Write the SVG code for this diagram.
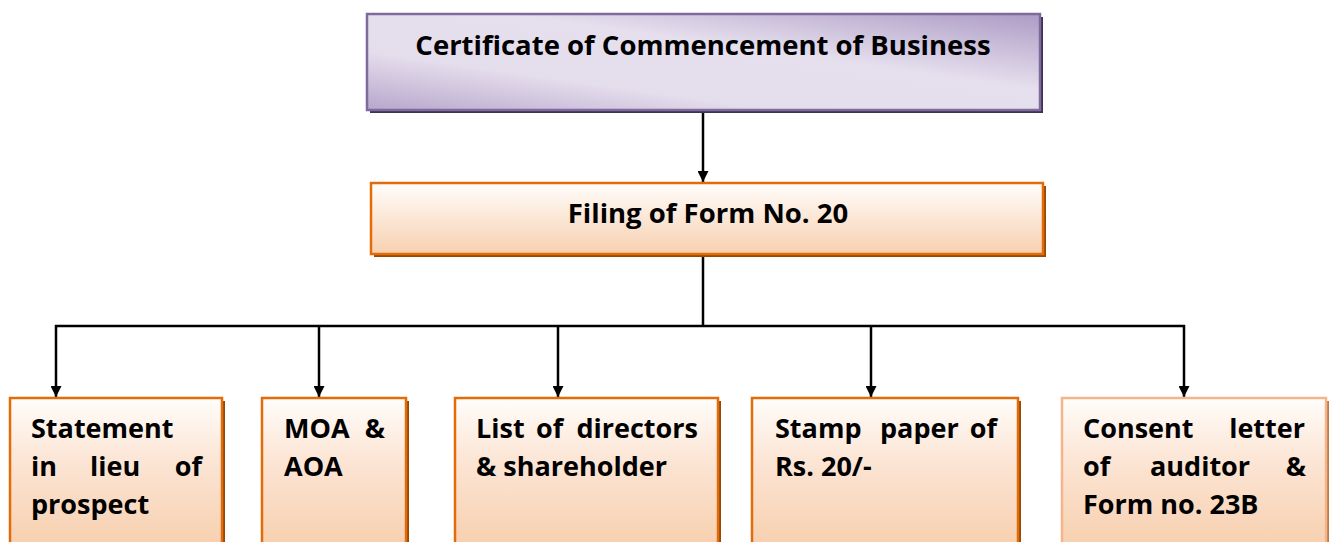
<svg xmlns="http://www.w3.org/2000/svg" width="1333" height="542" viewBox="0 0 1333 542">
<defs>
<linearGradient id="gp" x1="0" y1="1" x2="1" y2="0">
<stop offset="0" stop-color="#b7a6cb"/>
<stop offset="0.3" stop-color="#e4ddec"/>
<stop offset="0.6" stop-color="#e6e0ee"/>
<stop offset="1" stop-color="#ad9bc5"/>
</linearGradient>
<linearGradient id="go" x1="0" y1="0" x2="0" y2="1">
<stop offset="0" stop-color="#fffdfb"/>
<stop offset="1" stop-color="#f8d0b0"/>
</linearGradient>
<linearGradient id="gb" x1="0" y1="0" x2="0" y2="1">
<stop offset="0" stop-color="#fffdfb"/>
<stop offset="0.4" stop-color="#fce6d6"/>
<stop offset="1" stop-color="#f7cfae"/>
</linearGradient>
<marker id="ah" viewBox="0 0 10 10" refX="10" refY="5" markerWidth="11" markerHeight="11" markerUnits="userSpaceOnUse" orient="auto">
<path d="M0,0 L10,5 L0,10 z" fill="#000"/>
</marker>
</defs>
<style>
.t{font-family:"Open Sans",Lato,"Liberation Sans",sans-serif;font-weight:bold;font-size:27px;fill:#000}
.h{font-size:27.5px}
.ob{fill:url(#gb);stroke:#e36c0a;stroke-width:2.5}
.sh{fill:#984806}
.ln{stroke:#000;stroke-width:2.5;fill:none}
</style>
<g id="connectors">
<line class="ln" x1="703" y1="111" x2="703" y2="182" marker-end="url(#ah)"/>
<line class="ln" x1="703" y1="256" x2="703" y2="326"/>
<line class="ln" x1="55" y1="326" x2="1185" y2="326"/>
<line class="ln" x1="56" y1="325" x2="56" y2="397" marker-end="url(#ah)"/>
<line class="ln" x1="319" y1="325" x2="319" y2="397" marker-end="url(#ah)"/>
<line class="ln" x1="558" y1="325" x2="558" y2="397" marker-end="url(#ah)"/>
<line class="ln" x1="871" y1="325" x2="871" y2="397" marker-end="url(#ah)"/>
<line class="ln" x1="1184" y1="325" x2="1184" y2="397" marker-end="url(#ah)"/>
</g>
<g id="n-certificate">
<rect x="370" y="17" width="673" height="96" fill="#3f3151"/>
<rect x="367" y="14" width="673" height="96" fill="url(#gp)" stroke="#7f6a9e" stroke-width="2.5"/>
<text class="t h" x="703" y="55" text-anchor="middle">Certificate of Commencement of Business</text>
</g>
<g id="n-filing">
<rect x="374" y="186" width="672" height="71" class="sh"/>
<rect x="371" y="183" width="672" height="71" fill="url(#go)" stroke="#e36c0a" stroke-width="2.5"/>
<text class="t h" x="708" y="223" text-anchor="middle">Filing of Form No. 20</text>
</g>
<g id="n-statement">
<rect x="13" y="401" width="212" height="150" class="sh"/>
<rect x="10" y="398" width="212" height="150" class="ob"/>
<text class="t" x="31" y="438">Statement</text>
<text class="t" y="476"><tspan x="31">in</tspan><tspan x="90">lieu</tspan><tspan x="202" text-anchor="end">of</tspan></text>
<text class="t" x="31" y="514">prospect</text>
</g>
<g id="n-moa">
<rect x="265" y="401" width="144" height="150" class="sh"/>
<rect x="262" y="398" width="144" height="150" class="ob"/>
<text class="t" y="438"><tspan x="284">MOA</tspan><tspan x="385" text-anchor="end">&amp;</tspan></text>
<text class="t" x="284" y="476">AOA</text>
</g>
<g id="n-list">
<rect x="458" y="401" width="263" height="150" class="sh"/>
<rect x="455" y="398" width="263" height="150" class="ob"/>
<text class="t" y="438"><tspan x="476">List</tspan><tspan x="536">of</tspan><tspan x="698" text-anchor="end">directors</tspan></text>
<text class="t" x="476" y="476">&amp; shareholder</text>
</g>
<g id="n-stamp">
<rect x="755" y="401" width="266" height="150" class="sh"/>
<rect x="752" y="398" width="266" height="150" class="ob"/>
<text class="t" y="438"><tspan x="775">Stamp</tspan><tspan x="880">paper</tspan><tspan x="997" text-anchor="end">of</tspan></text>
<text class="t" x="775" y="476">Rs. 20/-</text>
</g>
<g id="n-consent">
<rect x="1065" y="401" width="264" height="150" fill="#c07a4a"/>
<rect x="1062" y="398" width="264" height="150" fill="url(#gb)" stroke="#f5b58a" stroke-width="2.5"/>
<text class="t" y="438"><tspan x="1083">Consent</tspan><tspan x="1305" text-anchor="end">letter</tspan></text>
<text class="t" y="476"><tspan x="1083">of</tspan><tspan x="1150">auditor</tspan><tspan x="1306" text-anchor="end">&amp;</tspan></text>
<text class="t" x="1083" y="514">Form no. 23B</text>
</g>
</svg>
